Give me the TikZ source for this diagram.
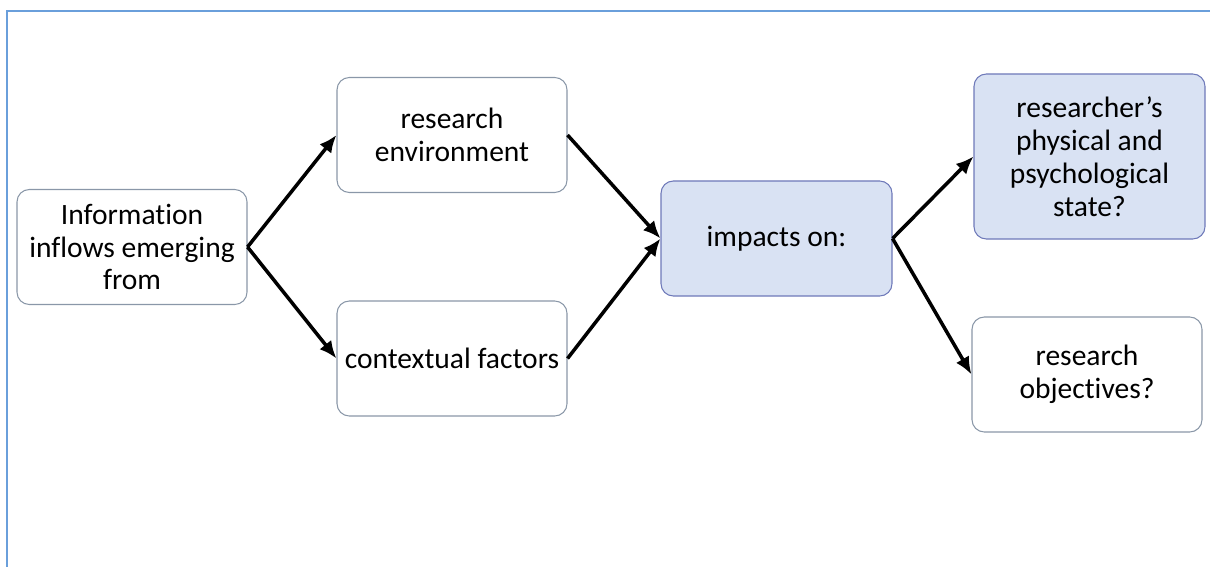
\documentclass[tikz,border=0pt]{standalone}
\usepackage{fontspec}
\setmainfont[Ligatures=NoCommon]{Carlito}
\usepackage{tikz}
\usetikzlibrary{arrows.meta, positioning}
\definecolor{boxline}{HTML}{8A97A8}
\definecolor{boxfill}{HTML}{D9E2F3}
\definecolor{frameblue}{HTML}{6A9FDB}
\tikzset{
        block/.style={draw=boxline, line width=0.6pt, rounded corners=7pt, text width=4.5cm, inner xsep=1pt, minimum width=4.6cm, minimum height=2.3cm, align=flush center, font=\fontsize{16.8}{18.7}\selectfont},
        hilite/.style={block, fill=boxfill, draw=boxline!80!blue},
        line/.style={-{Latex[length=10pt,width=8.5pt]}, line width=2pt}
    }
\begin{document}
\begin{tikzpicture}
    \useasboundingbox (0,0) rectangle (24.2,-11.32);
    % frame round the page
    \draw[frameblue, line width=1.1pt] (0.14,-11.4) |- (24.3,-0.22);

    % source and its two inputs
    \node[block] (info) at ( 2.64, -4.94) {Information\\inflows emerging\\from};
    \node[block] (env) at ( 9.04, -2.70) {research\\environment};
    \node[block] (ctx) at ( 9.04, -7.17) {contextual factors};

    % what they act on
    \node[hilite, minimum width=4.62cm] (imp) at (15.53, -4.77) {impacts on:};
    \node[hilite, minimum width=4.62cm, minimum height=3.3cm] (phys) at (21.79, -3.13) {researcher’s\\physical and\\psychological\\state?};
    \node[block] (obj) at (21.74, -7.49) {research\\objectives?};

    % connections
    \draw[line] (info.east)-- (env.west);
    \draw[line] (info.east)-- (ctx.west);
    \draw[line] (env.east)-- (imp.west);
    \draw[line] (ctx.east)-- (imp.west);
    \draw[line] (imp.east)-- (phys.west);
    \draw[line] (imp.east)-- (obj.west);

\end{tikzpicture}
\end{document}
